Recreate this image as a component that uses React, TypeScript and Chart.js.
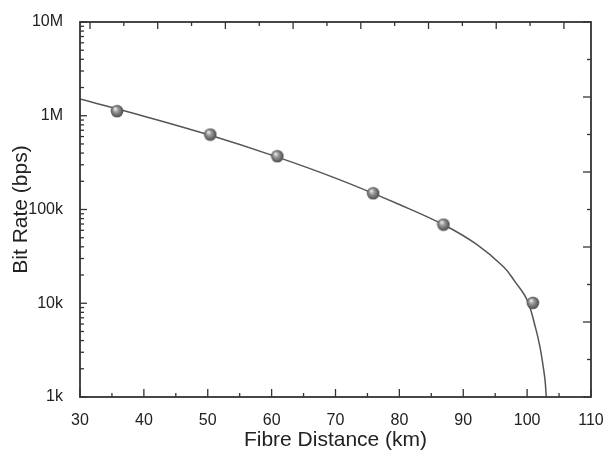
import React, { useEffect, useRef } from 'react';
import { Chart, registerables } from 'chart.js';

Chart.register(...registerables);

// ---- data ----
const xTickValues = [30, 40, 50, 60, 70, 80, 90, 100, 110];
const xMinorTickValues = [35, 45, 55, 65, 75, 85, 95, 105];
const yTickValues = [1e3, 1e4, 1e5, 1e6, 1e7];
const yTickLabels = ['1k', '10k', '100k', '1M', '10M'];
const yMinorMultipliers = [2, 3, 4, 5, 6, 7, 8, 9];
const topTickValues = [0, 1, 2, 3, 4, 5, 6, 7, 8, 9, 10, 11, 12, 13, 14];
const rightTickValues = [0, 1, 2, 3, 4, 5, 6, 7, 8, 9, 10];

const measuredDistance = [35.8, 50.4, 60.9, 75.9, 86.9, 100.9];
const measuredRate = [1.12e6, 6.3e5, 3.7e5, 1.49e5, 6.9e4, 1.01e4];

const fitDistance = [30, 40, 50, 60, 70, 80, 87, 92, 96.3, 98.1, 100, 101.4, 102.0, 102.44, 102.8, 103.0];
const fitRate = [1.51e6, 9.9e5, 6.3e5, 3.8e5, 2.16e5, 1.13e5, 6.84e4, 4.29e4, 2.45e4, 1.7e4, 1.08e4, 5.2e3, 3.44e3, 2.29e3, 1.52e3, 1e3];

const FONT = "'Liberation Sans', Arial, Helvetica, sans-serif";
const TEXT = '#222';
const AXIS = '#333';

function makeSphere(): HTMLCanvasElement {
  const c = document.createElement('canvas');
  c.width = 14;
  c.height = 14;
  const g = c.getContext('2d')!;
  const grad = g.createRadialGradient(5, 4.5, 0.4, 7, 7, 6.6);
  grad.addColorStop(0, '#eeeeee');
  grad.addColorStop(0.35, '#9c9c9c');
  grad.addColorStop(0.8, '#5f5f5f');
  grad.addColorStop(1, '#4a4a4a');
  g.fillStyle = grad;
  g.beginPath();
  g.arc(7, 7, 6.3, 0, Math.PI * 2);
  g.fill();
  return c;
}

const frameTicks = {
  id: 'frameTicks',
  afterDatasetsDraw(chart: any) {
    const { ctx, chartArea: a, scales } = chart;
    const line = (x1: number, y1: number, x2: number, y2: number) => {
      ctx.beginPath();
      ctx.moveTo(x1, y1);
      ctx.lineTo(x2, y2);
      ctx.stroke();
    };
    ctx.save();
    ctx.strokeStyle = AXIS;
    ctx.lineWidth = 1.3;
    // bottom axis
    xTickValues.forEach((v) => {
      const p = scales.x.getPixelForValue(v);
      line(p, a.bottom, p, a.bottom - 8);
    });
    xMinorTickValues.forEach((v) => {
      const p = scales.x.getPixelForValue(v);
      line(p, a.bottom, p, a.bottom - 4);
    });
    // left axis (log)
    yTickValues.forEach((v) => {
      const p = scales.y.getPixelForValue(v);
      line(a.left, p, a.left + 7, p);
    });
    yTickValues.slice(0, -1).forEach((dec) => {
      yMinorMultipliers.forEach((m) => {
        const p = scales.y.getPixelForValue(dec * m);
        line(a.left, p, a.left + 4, p);
      });
    });
    // top axis
    topTickValues.forEach((v) => {
      const p = scales.x2.getPixelForValue(v);
      line(p, a.top, p, a.top + (v % 2 === 0 ? 7 : 4));
    });
    // right axis
    rightTickValues.forEach((v) => {
      const p = scales.y2.getPixelForValue(v);
      line(a.right, p, a.right - (v % 2 === 0 ? 8 : 4), p);
    });
    ctx.lineWidth = 1.8;
    ctx.strokeRect(a.left, a.top, a.right - a.left, a.bottom - a.top);
    ctx.restore();
  },
};

const noPad = (s: any) => {
  s.paddingLeft = 0;
  s.paddingRight = 0;
  s.paddingTop = 0;
  s.paddingBottom = 0;
};

export default function App() {
  const ref = useRef<HTMLCanvasElement | null>(null);

  useEffect(() => {
    if (!ref.current) return;
    const sphere = makeSphere();
    const chart = new Chart(ref.current, {
      type: 'scatter',
      data: {
        datasets: [
          {
            label: 'Measured',
            data: measuredDistance.map((x, i) => ({ x, y: measuredRate[i] })),
            pointStyle: sphere as any,
            pointRadius: 6,
            showLine: false,
          },
          {
            label: 'Fit',
            data: fitDistance.map((x, i) => ({ x, y: fitRate[i] })),
            showLine: true,
            pointRadius: 0,
            borderColor: '#555',
            borderWidth: 1.5,
            tension: 0.4,
          },
        ],
      },
      plugins: [frameTicks],
      options: {
        animation: false,
        responsive: false,
        layout: { padding: { top: 22, right: 15, left: 0, bottom: 0 } },
        plugins: { legend: { display: false }, tooltip: { enabled: false } },
        scales: {
          x: {
            type: 'linear',
            position: 'bottom',
            min: 30,
            max: 110,
            afterBuildTicks: (s: any) => {
              s.ticks = xTickValues.map((value) => ({ value }));
            },
            afterFit: (s: any) => {
              s.height = 53;
              noPad(s);
            },
            grid: { display: false },
            border: { display: false },
            ticks: {
              color: TEXT,
              font: { family: FONT, size: 16 },
              padding: 6,
              autoSkip: false,
              maxRotation: 0,
              callback: (v: any) => String(v),
            },
            title: {
              display: true,
              text: 'Fibre Distance (km)',
              color: TEXT,
              font: { family: FONT, size: 21, lineHeight: 1 },
              padding: { top: 0, bottom: -1.2 },
            },
          },
          y: {
            type: 'logarithmic',
            position: 'left',
            min: 1e3,
            max: 1e7,
            afterBuildTicks: (s: any) => {
              s.ticks = yTickValues.map((value) => ({ value }));
            },
            afterFit: (s: any) => {
              s.width = 80;
              noPad(s);
            },
            grid: { display: false },
            border: { display: false },
            ticks: {
              color: TEXT,
              font: { family: FONT, size: 16 },
              padding: 9,
              autoSkip: false,
              callback: (v: any) => {
                const i = yTickValues.findIndex((t) => Math.abs(Math.log10(t) - Math.log10(Number(v))) < 1e-6);
                return i >= 0 ? yTickLabels[i] : '';
              },
            },
            title: {
              display: true,
              text: 'Bit Rate (bps)',
              color: TEXT,
              font: { family: FONT, size: 21, lineHeight: 1 },
              padding: { top: 10.5, bottom: 0 },
            },
          },
          x2: {
            type: 'linear',
            position: 'top',
            display: false,
            min: -0.295,
            max: 14.8,
            ticks: { display: false },
            afterFit: (s: any) => {
              s.height = 0;
              noPad(s);
            },
          },
          y2: {
            type: 'linear',
            position: 'right',
            display: false,
            min: 0,
            max: 10,
            ticks: { display: false },
            afterFit: (s: any) => {
              s.width = 0;
              noPad(s);
            },
          },
        },
      } as any,
    });
    return () => chart.destroy();
  }, []);

  return (
    <div style={{ position: 'absolute', left: 0, top: 0, width: 606, height: 450, background: '#fff' }}>
      <canvas ref={ref} width={606} height={450} style={{ display: 'block', width: 606, height: 450 }} />
    </div>
  );
}
